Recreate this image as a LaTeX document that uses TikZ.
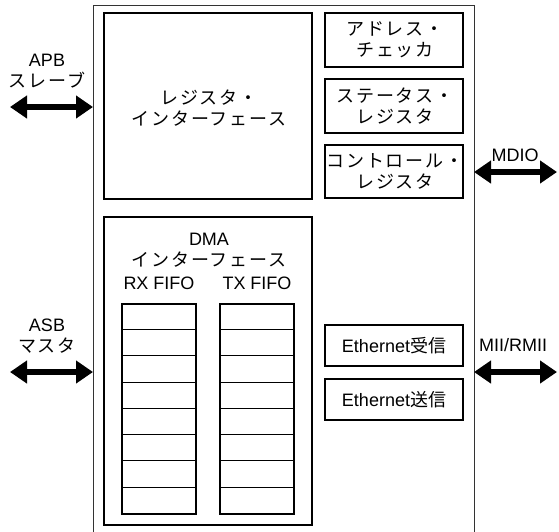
\documentclass[tikz,border=0pt]{standalone}
\usepackage{fontspec}
\setmainfont{Liberation Sans}
\newfontfamily\jp{Noto Sans CJK JP}[LetterSpace=10]
\newfontfamily\jpk{Noto Sans CJK JP}
\usetikzlibrary{arrows.meta}
\begin{document}
\begin{tikzpicture}[x=1pt,y=-1pt,
  every node/.style={font=\fontsize{18}{21}\selectfont, align=center, inner sep=0pt},
  block/.style={draw=black, line width=1.6pt},
  fifo/.style={draw=black, line width=1.4pt},
  fiforow/.style={draw=black, line width=0.8pt},
  port/.style={line width=6.5pt, {Triangle[length=17pt,width=22pt]}-{Triangle[length=17pt,width=22pt]}}]
\useasboundingbox (0,0) rectangle (559,531);

% outer chip outline (open at the bottom)
\draw[line width=1pt, draw=black!80] (93,532) -- (93,5) -- (474,5) -- (474,532);
\coordinate (chipL1) at (93,107);
\coordinate (chipL2) at (93,372);
\coordinate (chipR1) at (474,172);
\coordinate (chipR2) at (474,372);

% register interface
\node[block, minimum width=208pt, minimum height=186pt] (regif) at (208,106) {};
\node (regiftxt) at (209,108) {\jp レジスタ・\\\jp インターフェース};

% right-hand function blocks (frames, then their labels)
\node[block, minimum width=138pt, minimum height=54pt] (addr) at (394,40) {};
\node[block, minimum width=138pt, minimum height=54pt] (stat) at (394,106) {};
\node[block, minimum width=138pt, minimum height=53pt] (ctrl) at (394,171.5) {};
\node[block, minimum width=138pt, minimum height=41pt] (erx) at (394,345.5) {};
\node[block, minimum width=138pt, minimum height=41pt] (etx) at (394,399.5) {};
\node (addrtxt) at ([xshift=1pt]addr.center) {\jp アドレス・\\\jp チェッカ};
\node (stattxt) at ([xshift=1pt]stat.center) {\jp ステータス・\\\jp レジスタ};
\node (ctrltxt) at ([xshift=1pt]ctrl.center) {\jp コントロール・\\\jp レジスタ};
\node (erxtxt) at (erx.center) {Ethernet{\jpk 受信}};
\node (etxtxt) at (etx.center) {Ethernet{\jpk 送信}};

% DMA interface with FIFOs
\node[block, minimum width=208pt, minimum height=308pt] (dma) at (208,371) {};
\node (dmatxt) at (209,250) {DMA\\\jp インターフェース};
\node (rxtxt) at (159,283) {RX FIFO};
\node (txtxt) at (257,283) {TX FIFO};
\node[fifo, minimum width=74pt, minimum height=210pt] (rx) at (159,409) {};
\node[fifo, minimum width=74pt, minimum height=210pt] (tx) at (257,409) {};
\foreach \f in {rx,tx}{
  \foreach \k in {1,...,7}{
    \draw[fiforow] ([yshift=-\k*26.25pt]\f.north west) -- ([yshift=-\k*26.25pt]\f.north east);
  }
}

% external ports
\coordinate (apbend) at (10,107);
\coordinate (asbend) at (10,372);
\coordinate (mdioend) at (557,172);
\coordinate (miiend) at (557,372);
\draw[port] (apbend) -- (chipL1);
\draw[port] (asbend) -- (chipL2);
\draw[port] (chipR1) -- (mdioend);
\draw[port] (chipR2) -- (miiend);

\node (apb) at (47,71) {APB\\\jp スレーブ};
\node (asb) at (47,336) {ASB\\\jp マスタ};
\node (mdio) at (515,155) {MDIO};
\node (mii) at (513,345) {MII/RMII};
\end{tikzpicture}
\end{document}
